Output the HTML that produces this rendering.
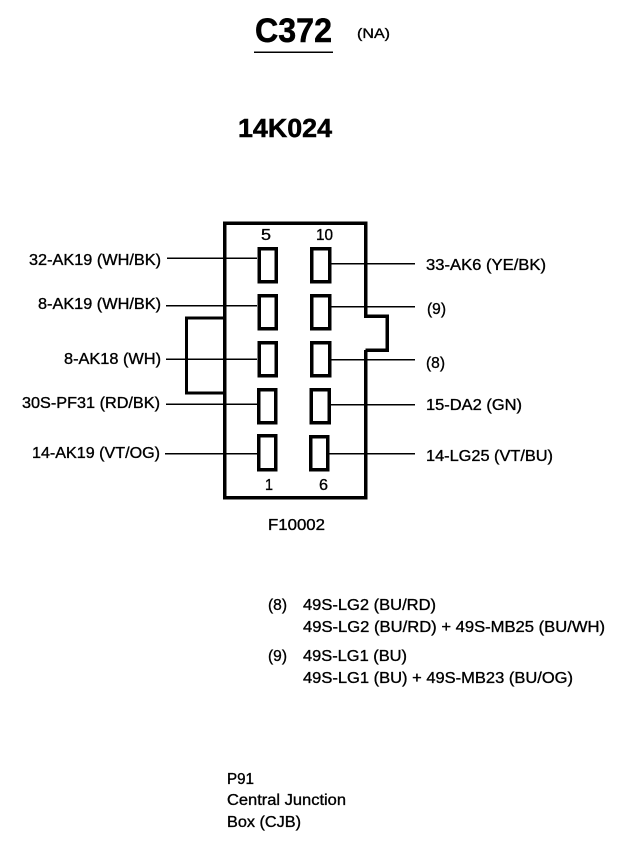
<!DOCTYPE html>
<html><head><meta charset="utf-8"><style>
html,body{margin:0;padding:0;background:#fff}
svg{display:block}
text{font-family:"Liberation Sans",sans-serif;font-size:15.5px;fill:#000;stroke:#000;stroke-width:.35}
.b{font-weight:bold;stroke-width:.5}
</style></head><body>
<svg width="640" height="854" viewBox="0 0 640 854" xmlns="http://www.w3.org/2000/svg">
<rect width="640" height="854" fill="#fff"/>
<g fill="none" stroke="#000" shape-rendering="crispEdges">
<path stroke-width="3.5" d="M365.5 350V497.5H224.5V223H365.5V316H387V350H365.5"/>
<path stroke-width="3" d="M224 318H186.5V393H224"/>
<g stroke-width="3.5">
<rect x="259" y="248.500" width="17" height="33"/>
<rect x="259" y="295.500" width="17" height="33"/>
<rect x="259" y="342.500" width="17" height="33"/>
<rect x="258.500" y="389.500" width="17" height="33"/>
<rect x="258.500" y="435.500" width="17" height="34"/>
<rect x="311.500" y="248.500" width="18" height="33"/>
<rect x="311.500" y="295.500" width="18" height="33"/>
<rect x="311.500" y="342.500" width="18" height="33"/>
<rect x="311" y="389.500" width="18" height="33"/>
<rect x="310.500" y="436.500" width="17" height="33"/>
</g>
<g stroke-width="1.500">
<path d="M167 258H257M166 305.500H257M166 359H257M166 404H257M165 453.500H257"/>
<path d="M331 263.500H415M331 306.500H415M331 359.500H415M331 404.500H415M329 453.500H415"/>
</g>
<path stroke-width="1.500" d="M254 52H333"/>
</g>
<text class="b" x="255" y="42" style="font-size:34px" textLength="77" lengthAdjust="spacingAndGlyphs">C372</text>
<text x="357" y="38" style="font-size:14px" textLength="33" lengthAdjust="spacingAndGlyphs">(NA)</text>
<text class="b" x="238" y="137" style="font-size:25.500px" textLength="94" lengthAdjust="spacingAndGlyphs">14K024</text>
<text x="261" y="240" textLength="10" lengthAdjust="spacingAndGlyphs">5</text>
<text x="316" y="240" textLength="17" lengthAdjust="spacingAndGlyphs">10</text>
<text x="265" y="490" textLength="8" lengthAdjust="spacingAndGlyphs">1</text>
<text x="319" y="490" textLength="9" lengthAdjust="spacingAndGlyphs">6</text>
<text x="29" y="265" textLength="132" lengthAdjust="spacingAndGlyphs">32-AK19 (WH/BK)</text>
<text x="38" y="309" textLength="123" lengthAdjust="spacingAndGlyphs">8-AK19 (WH/BK)</text>
<text x="64" y="364" textLength="97" lengthAdjust="spacingAndGlyphs">8-AK18 (WH)</text>
<text x="22" y="408" textLength="138" lengthAdjust="spacingAndGlyphs">30S-PF31 (RD/BK)</text>
<text x="32" y="458" textLength="128" lengthAdjust="spacingAndGlyphs">14-AK19 (VT/OG)</text>
<text x="426" y="270" textLength="120" lengthAdjust="spacingAndGlyphs">33-AK6 (YE/BK)</text>
<text x="427" y="314" textLength="19" lengthAdjust="spacingAndGlyphs">(9)</text>
<text x="426" y="368" textLength="19" lengthAdjust="spacingAndGlyphs">(8)</text>
<text x="426" y="410" textLength="96" lengthAdjust="spacingAndGlyphs">15-DA2 (GN)</text>
<text x="426" y="461" textLength="127" lengthAdjust="spacingAndGlyphs">14-LG25 (VT/BU)</text>
<text x="268" y="530" textLength="57" lengthAdjust="spacingAndGlyphs">F10002</text>
<text x="268" y="610" textLength="19" lengthAdjust="spacingAndGlyphs">(8)</text>
<text x="303" y="610" textLength="133" lengthAdjust="spacingAndGlyphs">49S-LG2 (BU/RD)</text>
<text x="303" y="632" textLength="302" lengthAdjust="spacingAndGlyphs">49S-LG2 (BU/RD) + 49S-MB25 (BU/WH)</text>
<text x="268" y="661" textLength="19" lengthAdjust="spacingAndGlyphs">(9)</text>
<text x="303" y="661" textLength="104" lengthAdjust="spacingAndGlyphs">49S-LG1 (BU)</text>
<text x="303" y="683" textLength="270" lengthAdjust="spacingAndGlyphs">49S-LG1 (BU) + 49S-MB23 (BU/OG)</text>
<text x="227" y="784" textLength="27" lengthAdjust="spacingAndGlyphs">P91</text>
<text x="227" y="805" textLength="119" lengthAdjust="spacingAndGlyphs">Central Junction</text>
<text x="227" y="827" textLength="74" lengthAdjust="spacingAndGlyphs">Box (CJB)</text>
</svg>
</body></html>
